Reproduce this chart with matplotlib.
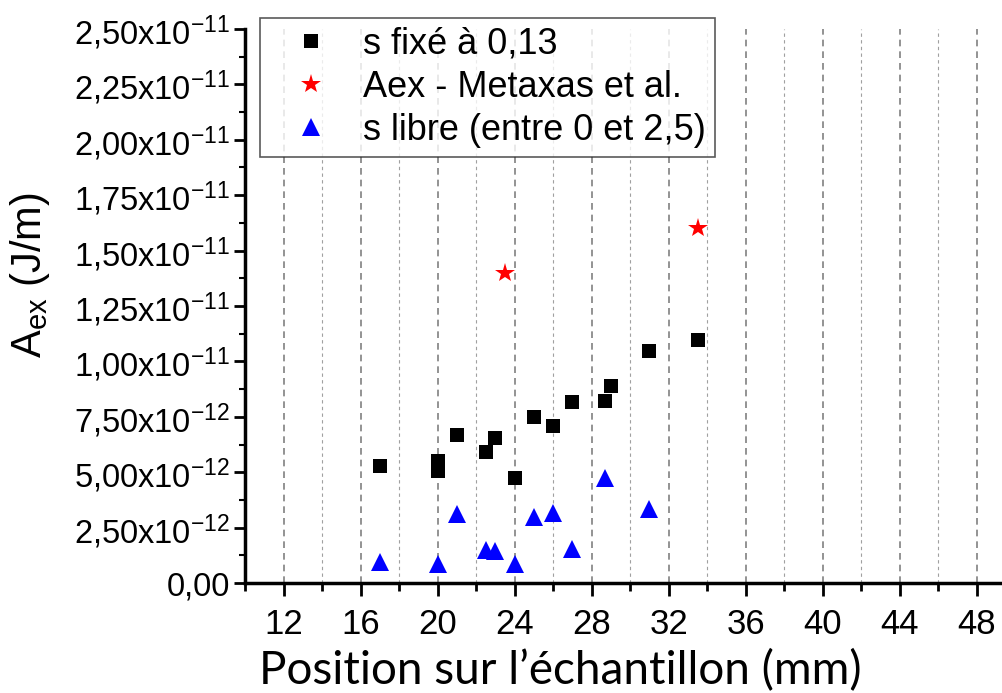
import math
import matplotlib
matplotlib.use('Agg')
import matplotlib.pyplot as plt
from matplotlib.ticker import MultipleLocator, FuncFormatter

# Data
x_fixe = [17, 20, 20, 21, 22.5, 23, 24, 25, 26, 27, 28.7, 29, 31, 33.5]
a_fixe = [5.3e-12, 5.5e-12, 5.05e-12, 6.7e-12, 5.9e-12, 6.55e-12, 4.75e-12,
          7.5e-12, 7.1e-12, 8.15e-12, 8.2e-12, 8.9e-12, 1.045e-11, 1.095e-11]

x_metaxas = [23.5, 33.5]
a_metaxas = [1.4e-11, 1.6e-11]

x_libre = [17, 20, 21, 22.5, 23, 24, 25, 26, 27, 28.7, 31]
a_libre = [0.95e-12, 0.85e-12, 3.1e-12, 1.5e-12, 1.45e-12, 0.86e-12,
           2.97e-12, 3.15e-12, 1.53e-12, 4.73e-12, 3.33e-12]

labels = ['s fixé à 0,13', 'Aex - Metaxas et al.', 's libre (entre 0 et 2,5)']
x_ticks = [12, 16, 20, 24, 28, 32, 36, 40, 44, 48]

plt.rcParams['font.family'] = ['Liberation Sans', 'DejaVu Sans']
plt.rcParams['mathtext.default'] = 'regular'

fig = plt.figure(figsize=(10.02, 6.93), dpi=100)
ax = fig.add_axes([0.2445, 0.1587, 0.7535, 0.7995])

# grid under the points
ax.set_axisbelow(True)
ax.xaxis.grid(True, which='major', color='#808080', linestyle=(0, (4, 3)), linewidth=1.2)
ax.xaxis.grid(True, which='minor', color='#a0a0a0', linestyle=(0, (3, 3)), linewidth=0.8)

ax.plot(x_fixe, a_fixe, 's', color='black', markersize=9.5, markeredgewidth=0, label=labels[0])
ax.plot(x_metaxas, a_metaxas, '*', color='red', markersize=15, markeredgewidth=0, label=labels[1])
ax.plot(x_libre, a_libre, '^', color='blue', markersize=13, markeredgewidth=0, label=labels[2])

ax.set_xlim(10, 49.2)
ax.set_ylim(0, 2.5e-11)
ax.set_xticks(x_ticks)
ax.xaxis.set_minor_locator(MultipleLocator(2))
ax.yaxis.set_major_locator(MultipleLocator(0.25e-11))
ax.yaxis.set_minor_locator(MultipleLocator(0.125e-11))


def sci_fmt(v, pos):
    if abs(v) < 1e-20:
        return '0,00'
    e = int(math.floor(math.log10(abs(v)) + 1e-9))
    m = v / 10 ** e
    s = ('%.2f' % m).replace('.', ',')
    return s + 'x10$^{' + str(e) + '}$'


ax.yaxis.set_major_formatter(FuncFormatter(sci_fmt))

for side in ['top', 'right']:
    ax.spines[side].set_visible(False)
for side in ['left', 'bottom']:
    ax.spines[side].set_linewidth(2.5)

ax.tick_params(axis='y', which='major', direction='out', length=8, width=2, labelsize=23.5, pad=3)
ax.tick_params(axis='y', which='minor', direction='out', length=4, width=1.5)
ax.tick_params(axis='x', which='major', direction='out', length=9, width=2, labelsize=25, pad=9)
ax.tick_params(axis='x', which='minor', direction='out', length=6, width=2)

ax.set_xlabel('Position sur l\u2019échantillon (mm)', fontsize=33, family=['Lato', 'DejaVu Sans'])
ax.xaxis.set_label_coords(0.417, -0.12)
ax.set_ylabel('A$_{ex}$ (J/m)', fontsize=30)
ax.yaxis.set_label_coords(-0.255, 0.556)

leg = ax.legend(loc='upper left', bbox_to_anchor=(0.02, 1.02), fontsize=26, frameon=True,
                fancybox=False, borderpad=0.25, handletextpad=0.3, labelspacing=0.22,
                handlelength=2.3, borderaxespad=0)
leg.get_frame().set_edgecolor('#303030')
leg.get_frame().set_linewidth(1.2)

fig.savefig('out.png', dpi=100)
